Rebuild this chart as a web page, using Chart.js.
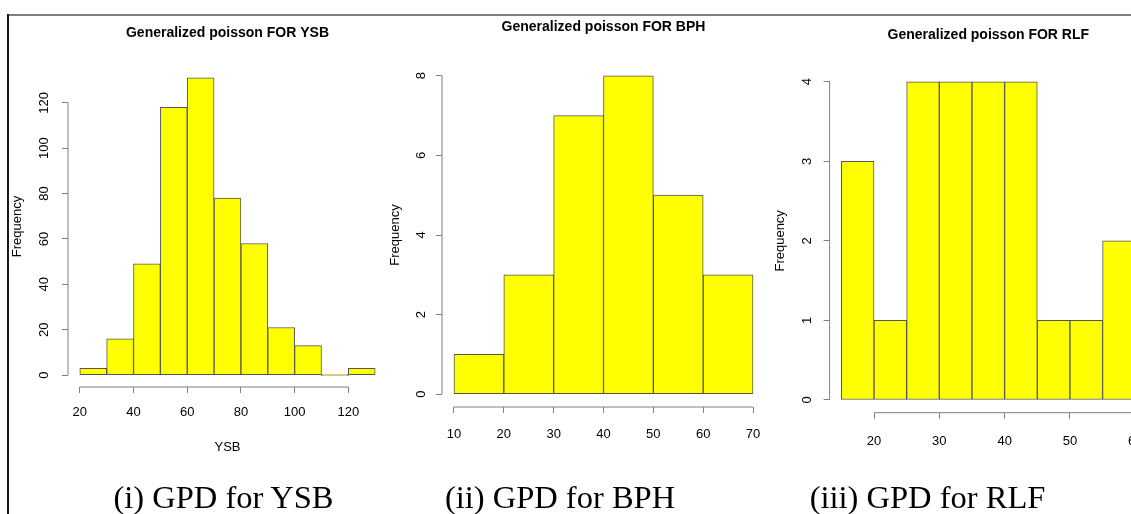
<!DOCTYPE html>
<html>
<head>
<meta charset="utf-8">
<title>Generalized poisson histograms</title>
<script src="https://cdn.jsdelivr.net/npm/chart.js@4.4.1/dist/chart.umd.min.js"></script>
<style>
  html, body { margin: 0; padding: 0; background: #fff; }
  #stage { position: relative; width: 1131px; height: 514px; overflow: hidden; background: #fff; }
  #stage canvas { position: absolute; left: 0; top: 0; }
  .rule-top { position: absolute; left: 8px; top: 14px; width: 1123px; height: 2px; background: #7f7f7f; }
  .rule-left { position: absolute; left: 7px; top: 14px; width: 2px; height: 500px; background: #1a1a1a; }
  .caption {
    position: absolute; top: 481px; line-height: 1; white-space: nowrap;
    font-family: 'Liberation Serif', 'Times New Roman', serif; font-size: 32.5px; color: #000;
    transform: translateX(-50%);
  }
</style>
</head>
<body>
<div id="stage">
  <canvas id="ysbChart" width="1180" height="514"></canvas>
  <canvas id="bphChart" width="1180" height="514"></canvas>
  <canvas id="rlfChart" width="1180" height="514"></canvas>
  <div class="rule-top"></div>
  <div class="rule-left"></div>
  <div class="caption" style="left:223.5px">(i) GPD for YSB</div>
  <div class="caption" style="left:560px">(ii) GPD for BPH</div>
  <div class="caption" style="left:927.5px">(iii) GPD for RLF</div>
</div>
<script>
// Bin edges, counts and axis ticks for each histogram
const ysbBreaks = [20, 30, 40, 50, 60, 70, 80, 90, 100, 110, 120, 130];
const ysbCounts = [3, 16, 49, 118, 131, 78, 58, 21, 13, 0, 3];
const ysbXTicks = [20, 40, 60, 80, 100, 120];
const ysbYTicks = [0, 20, 40, 60, 80, 100, 120];

const bphBreaks = [10, 20, 30, 40, 50, 60, 70];
const bphCounts = [1, 3, 7, 8, 5, 3];
const bphXTicks = [10, 20, 30, 40, 50, 60, 70];
const bphYTicks = [0, 2, 4, 6, 8];

const rlfBreaks = [15, 20, 25, 30, 35, 40, 45, 50, 55, 60];
const rlfCounts = [3, 1, 4, 4, 4, 4, 1, 1, 2];
const rlfXTicks = [20, 30, 40, 50, 60];
const rlfYTicks = [0, 1, 2, 3, 4];

Chart.defaults.font.family = "'Liberation Sans', Arial, Helvetica, sans-serif";
Chart.defaults.color = '#000';

// Base-graphics style axes: the axis line only runs from the first tick to the last one
const tickSpanAxes = {
  id: 'tickSpanAxes',
  afterDraw(chart, args, opts) {
    const { ctx, chartArea, scales: { x, y } } = chart;
    const xt = x.ticks, yt = y.ticks;
    ctx.save();
    ctx.strokeStyle = opts.color;
    ctx.lineWidth = opts.width;
    ctx.beginPath();
    ctx.moveTo(x.getPixelForValue(xt[0].value), chartArea.bottom);
    ctx.lineTo(x.getPixelForValue(xt[xt.length - 1].value), chartArea.bottom);
    ctx.moveTo(chartArea.left, y.getPixelForValue(yt[0].value));
    ctx.lineTo(chartArea.left, y.getPixelForValue(yt[yt.length - 1].value));
    ctx.stroke();
    ctx.restore();
  }
};

function drawHistogram(canvasId, breaks, counts, xTicks, yTicks, title, xLabel, box) {
  const bars = counts.map((c, i) => ({ x: (breaks[i] + breaks[i + 1]) / 2, y: c }));
  const xSpan = breaks[breaks.length - 1] - breaks[0];
  const yPeak = Math.max(...counts);
  const axisGrey = '#808080';

  return new Chart(document.getElementById(canvasId), {
    type: 'bar',
    data: {
      datasets: [{
        data: bars,
        backgroundColor: '#ffff00',
        borderColor: '#555555',
        borderWidth: 1,
        borderSkipped: false,
        barPercentage: 1,
        categoryPercentage: 1,
        minBarLength: 1
      }]
    },
    plugins: [tickSpanAxes],
    options: {
      responsive: false,
      animation: false,
      devicePixelRatio: 1,
      events: [],
      layout: { padding: box.pad },
      plugins: {
        legend: { display: false },
        tooltip: { enabled: false },
        title: {
          display: true,
          text: title,
          fullSize: false,
          color: '#000',
          font: { size: 14, weight: 'bold' },
          padding: box.titlePad
        },
        tickSpanAxes: { color: axisGrey, width: 1 }
      },
      scales: {
        x: {
          type: 'linear',
          offset: false,
          min: breaks[0] - 0.04 * xSpan,
          max: breaks[breaks.length - 1] + 0.04 * xSpan,
          afterBuildTicks: s => { s.ticks = xTicks.map(v => ({ value: v })); },
          afterFit: s => { s.height = box.xAxisHeight; },
          border: { display: false },
          grid: { offset: false, drawOnChartArea: false, drawTicks: true, tickLength: 6, color: axisGrey },
          ticks: { autoSkip: false, minRotation: 0, maxRotation: 0, padding: box.xTickPad, font: { size: 13 }, color: '#000' },
          title: {
            display: !!xLabel,
            text: xLabel || '',
            color: '#000',
            font: { size: 13 },
            padding: { top: 0, bottom: box.xTitlePad }
          }
        },
        y: {
          type: 'linear',
          min: -0.04 * yPeak,
          max: 1.04 * yPeak,
          afterBuildTicks: s => { s.ticks = yTicks.map(v => ({ value: v })); },
          afterFit: s => { s.width = box.yAxisWidth; },
          border: { display: false },
          grid: { offset: false, drawOnChartArea: false, drawTicks: true, tickLength: 6, color: axisGrey },
          ticks: { autoSkip: false, minRotation: 90, maxRotation: 90, crossAlign: 'center', padding: box.yTickPad, font: { size: 13 }, color: '#000' },
          title: {
            display: true,
            text: 'Frequency',
            color: '#000',
            font: { size: 13 },
            padding: { top: box.yTitlePad, bottom: 0 }
          }
        }
      }
    }
  });
}

drawHistogram('ysbChart', ysbBreaks, ysbCounts, ysbXTicks, ysbYTicks, 'Generalized poisson FOR YSB', 'YSB', {
  pad: { left: 0, right: 793, top: 0, bottom: 44 },
  titlePad: { top: 24.6, bottom: 24.6 },
  yAxisWidth: 68, xAxisHeight: 83,
  yTickPad: 6.6, yTitlePad: 9.7, xTickPad: 11.5, xTitlePad: 15.2
});

drawHistogram('bphChart', bphBreaks, bphCounts, bphXTicks, bphYTicks, 'Generalized poisson FOR BPH', null, {
  pad: { left: 380, right: 415, top: 0, bottom: 44 },
  titlePad: { top: 18.6, bottom: 27.6 },
  yAxisWidth: 62, xAxisHeight: 63,
  yTickPad: 11.4, yTitlePad: 7.2, xTickPad: 13.5, xTitlePad: 0
});

drawHistogram('rlfChart', rlfBreaks, rlfCounts, rlfXTicks, rlfYTicks, 'Generalized poisson FOR RLF', null, {
  pad: { left: 760, right: 33, top: 0, bottom: 44 },
  titlePad: { top: 26.6, bottom: 25.6 },
  yAxisWidth: 69.6, xAxisHeight: 57.3,
  yTickPad: 12.5, yTitlePad: 12.9, xTickPad: 14.5, xTitlePad: 0
});
</script>
</body>
</html>
